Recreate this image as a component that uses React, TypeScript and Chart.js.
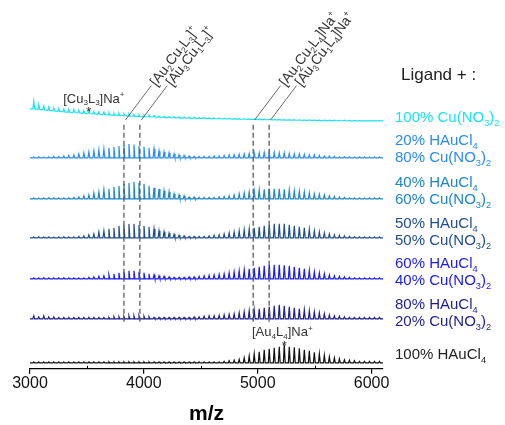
import React, { useEffect, useRef } from "react";
import { Chart, registerables } from "chart.js";
Chart.register(...registerables);

const FONT = "'Liberation Sans', Arial, Helvetica, sans-serif";

// m/z of the isotope-pattern peaks
const peakMz = [
  3033, 3077, 3121, 3165, 3209, 3253, 3297, 3341, 3385, 3429,
  3473, 3517, 3561, 3605, 3649, 3693, 3737, 3781, 3825, 3869,
  3913, 3957, 4001, 4045, 4089, 4133, 4177, 4221, 4265, 4309,
  4353, 4397, 4441, 4485, 4529, 4573, 4617, 4661, 4705, 4749,
  4793, 4837, 4881, 4925, 4969, 5013, 5057, 5101, 5145, 5189,
  5233, 5277, 5321, 5365, 5409, 5453, 5497, 5541, 5585, 5629,
  5673, 5717, 5761, 5805, 5849, 5893, 5937, 5981, 6025, 6069,
];

// 100% Cu(NO3)2
const cu100Peaks = [
  8, 5, 4, 3.5, 3, 3, 3, 3, 3, 3,
  2.5, 2.5, 2.5, 2.5, 2.5, 2, 2, 2, 2, 2,
  1.5, 1.5, 1.5, 1.5, 1.5, 1, 1, 1, 1, 1,
  1, 1, 1, 1, 1, 0.7, 0.7, 0.7, 0.7, 0.7,
  0.5, 0.5, 0.5, 0.5, 0.5, 0.5, 0.5, 0.5, 0.5, 0.5,
  0.5, 0.5, 0.5, 0.5, 0.5, 0.5, 0.5, 0.5, 0.5, 0.5,
  0.5, 0.5, 0.5, 0.5, 0.5, 0.5, 0.5, 0.5, 0.5, 0.5,
];
const cu100Valleys = [
  12, 11.5, 11, 10.5, 10, 9.5, 9, 8.7, 8.4, 8,
  7.7, 7.4, 7, 6.7, 6.4, 6.1, 5.8, 5.5, 5.2, 5,
  4.8, 4.6, 4.4, 4.2, 4, 3.8, 3.6, 3.4, 3.2, 3,
  2.9, 2.8, 2.7, 2.6, 2.5, 2.4, 2.3, 2.2, 2.1, 2,
  1.9, 1.8, 1.7, 1.6, 1.5, 1.4, 1.3, 1.2, 1.1, 1,
  0.9, 0.8, 0.8, 0.7, 0.6, 0.6, 0.5, 0.4, 0.4, 0.3,
  0.3, 0.2, 0.2, 0.1, 0.1, 0, 0, 0, 0, 0,
];
// 20% HAuCl4 / 80% Cu(NO3)2
const au20Peaks = [
  1, 1.2, 0.8, 1, 1.5, 1.3, 2, 2.5, 3, 4,
  5, 6, 7, 8, 9, 10, 11, 12, 13, 14,
  13.5, 12, 11, 10, 9, 7, 6, 5, 4, 3,
  2.5, 2, 1.5, 1.5, 1.5, 1.5, 2, 2, 2.5, 3,
  3, 3.5, 4, 4.5, 5, 5, 5.5, 5.5, 5.5, 5,
  5, 4.5, 4, 4, 3.5, 3, 3, 2.5, 2, 2,
  1.5, 1, 1.2, 1, 0.8, 1, 1, 0.8, 1, 1,
];
// 40% HAuCl4 / 60% Cu(NO3)2
const au40Peaks = [
  1, 0.8, 1, 1.2, 1, 1, 1, 1.2, 1.5, 2,
  3, 4, 6, 7, 9, 10, 12, 13, 15, 16,
  17, 16, 15, 13, 11, 10, 8, 7, 5, 4,
  3, 2, 2, 1.5, 1.5, 1.5, 1.5, 2, 2.5, 3,
  4, 5, 6, 7, 8, 9, 9.5, 10, 10, 10,
  9.5, 9, 8, 7.5, 7, 6, 5, 4.5, 4, 3,
  2.5, 2, 1.5, 1, 1, 1, 0.8, 1, 1, 1,
];
// 50% HAuCl4 / 50% Cu(NO3)2
const au50Peaks = [
  1, 1.2, 1, 1, 0.8, 1, 1.2, 1, 1, 1.5,
  2, 3, 4, 6, 7, 9, 10, 12, 13, 14,
  14, 13, 12, 11, 9, 7, 6, 4.5, 3.5, 2.5,
  2, 1.5, 1.5, 1.5, 1.5, 2, 2.5, 3, 4, 5,
  6, 7, 8, 9, 10, 11, 12, 13, 14, 14,
  14, 13, 12, 11, 10, 8.5, 7, 6, 5, 4,
  3, 2.5, 2, 1.5, 1.2, 1, 1, 1, 1, 1,
];
// 60% HAuCl4 / 40% Cu(NO3)2
const au60Peaks = [
  1, 1, 1.2, 1, 1, 1, 1.2, 1, 1, 1,
  1, 1.5, 2, 2.5, 3, 4, 5, 6, 7, 8,
  8, 7, 6, 5, 4, 3, 2.5, 2, 1.5, 1.5,
  1.5, 2, 2, 2.5, 3, 3.5, 4, 4.5, 5, 6,
  7, 8, 9, 10, 11, 12, 13, 14, 14, 14,
  13.5, 13, 12, 11, 10, 8.5, 7, 6, 5, 4,
  3, 2.5, 2, 1.5, 1, 1, 1, 1, 1, 1,
];
// 80% HAuCl4 / 20% Cu(NO3)2
const au80Peaks = [
  3, 2, 3, 2, 2, 1.5, 1.5, 1.5, 1.5, 1.5,
  1.5, 1.5, 1.5, 1.5, 1.5, 1.5, 2, 2, 2.5, 3,
  3, 3, 2.5, 2, 1.5, 1.5, 1.5, 1.5, 1.5, 1.5,
  1.5, 1.5, 2, 2, 2.5, 3, 3, 3.5, 4, 4.5,
  5, 6, 7, 8, 9, 10, 11, 12, 13, 14,
  13, 12, 11, 10, 9, 8, 7, 6, 5, 4,
  3, 2.5, 2, 1.5, 1.5, 1.5, 1.5, 1.5, 1.5, 1.5,
];
// 100% HAuCl4
const au100Peaks = [
  1, 1, 1, 1, 1, 1, 1, 1, 1, 1,
  1, 1, 1, 1, 1, 1, 1, 1, 1, 1,
  1, 1, 1, 1, 1, 1, 1, 1, 1, 1,
  1, 1, 1, 1, 1, 1, 1, 1, 1.5, 2,
  2.5, 3.5, 5, 7, 9, 11, 13, 14, 15, 16,
  18, 16, 15.5, 14.5, 13, 12, 10.5, 9, 7.5, 6,
  5, 4, 3, 2.5, 2, 1.5, 1.5, 1.5, 1.5, 1.5,
];

const seriesPeaks = [cu100Peaks, au20Peaks, au40Peaks, au50Peaks, au60Peaks, au80Peaks, au100Peaks];
const seriesValleys: (number[] | null)[] = [cu100Valleys, null, null, null, null, null, null];
const seriesOffsets = [248, 211, 170, 131, 90, 50, 6];
const seriesColors = ["#19E3EE", "#2A8CF0", "#2086C4", "#1F4E8A", "#1C1CE8", "#1E1E8C", "#111111"];
const seriesLabels = [
  ["100% Cu(NO_3)_2"],
  ["20% HAuCl_4", "80% Cu(NO_3)_2"],
  ["40% HAuCl_4", "60% Cu(NO_3)_2"],
  ["50% HAuCl_4", "50% Cu(NO_3)_2"],
  ["60% HAuCl_4", "40% Cu(NO_3)_2"],
  ["80% HAuCl_4", "20% Cu(NO_3)_2"],
  ["100% HAuCl_4"],
];
const legendTitle = "Ligand + :";

const markerMz = [3825, 3965, 4960, 5100];
const markerLabels = ["[Au_2Cu_2L_3]^+", "[Au_3Cu_1L_3]^+", "[Au_2Cu_2L_4]Na^+", "[Au_3Cu_1L_4]Na^+"];
const markerRange = [47, 247];

const starMz = [3517, 5233];
const starLabels = ["[Cu_3L_3]Na^+", "[Au_4L_4]Na^+"];
const starSeries = [0, 6];

const xMin = 3000;
const xMax = 6100;
const xTickValues = [3000, 3500, 4000, 4500, 5000, 5500, 6000];
const xAxisTitle = "m/z";

type Part = { t: string; m: "n" | "sub" | "sup" };
function parseRich(s: string): Part[] {
  const out: Part[] = [];
  for (let i = 0; i < s.length; i++) {
    const c = s[i];
    if ((c === "_" || c === "^") && i + 1 < s.length) {
      out.push({ t: s[i + 1], m: c === "_" ? "sub" : "sup" });
      i++;
    } else {
      const last = out[out.length - 1];
      if (last && last.m === "n") last.t += c;
      else out.push({ t: c, m: "n" });
    }
  }
  return out;
}
function richWidth(ctx: CanvasRenderingContext2D, s: string, size: number) {
  let w = 0;
  for (const p of parseRich(s)) {
    ctx.font = `${p.m === "n" ? size : size * 0.62}px ${FONT}`;
    w += ctx.measureText(p.t).width;
  }
  return w;
}
function drawRich(ctx: CanvasRenderingContext2D, s: string, x: number, y: number, size: number, color: string) {
  let cx = x;
  ctx.fillStyle = color;
  ctx.textBaseline = "alphabetic";
  ctx.textAlign = "left";
  for (const p of parseRich(s)) {
    const fs = p.m === "n" ? size : size * 0.62;
    ctx.font = `${fs}px ${FONT}`;
    const dy = p.m === "sub" ? size * 0.22 : p.m === "sup" ? -size * 0.42 : 0;
    ctx.fillText(p.t, cx, y + dy);
    cx += ctx.measureText(p.t).width;
  }
}

function buildTrace(peaks: number[], valleys: number[] | null, offset: number) {
  const v = (i: number) => offset + (valleys ? valleys[i] : 0);
  const pts: { x: number; y: number }[] = [{ x: xMin, y: v(0) }];
  peakMz.forEach((m, i) => {
    pts.push({ x: m - 8, y: v(i) }, { x: m, y: v(i) + peaks[i] }, { x: m + 8, y: v(i) });
  });
  pts.push({ x: xMax, y: v(peakMz.length - 1) });
  return pts;
}

const annotPlugin = {
  id: "annot",
  afterDraw(chart: any) {
    const { ctx, scales } = chart;
    const x = scales.x;
    const y = scales.y;
    const area = chart.chartArea;
    ctx.save();
    // minor ticks (inward)
    ctx.strokeStyle = "#000";
    ctx.lineWidth = 1;
    for (const v of xTickValues) {
      if (v % 1000 === 0) continue;
      const px = Math.round(x.getPixelForValue(v)) + 0.5;
      ctx.beginPath();
      ctx.moveTo(px, area.bottom);
      ctx.lineTo(px, area.bottom - 3);
      ctx.stroke();
    }
    // leader lines + rotated labels
    const ang = (53 * Math.PI) / 180;
    markerMz.forEach((m, i) => {
      const px = x.getPixelForValue(m);
      const sx = px + 1.5;
      const sy = y.getPixelForValue(markerRange[1]) - 2;
      const len = 43;
      const ex = sx + len * Math.cos(ang);
      const ey = sy - len * Math.sin(ang);
      ctx.strokeStyle = "#444";
      ctx.lineWidth = 0.8;
      ctx.beginPath();
      ctx.moveTo(sx, sy);
      ctx.lineTo(ex, ey);
      ctx.stroke();
      ctx.save();
      ctx.translate(ex, ey);
      ctx.rotate(-ang);
      drawRich(ctx, markerLabels[i], 2, 14 * 0.35, 14, "#333");
      ctx.restore();
    });
    // starred peaks
    const starShift = [5, -2];
    starMz.forEach((m, i) => {
      const si = starSeries[i];
      const k = peakMz.indexOf(m);
      const vals = seriesValleys[si];
      const top = seriesOffsets[si] + (vals ? vals[k] : 0) + seriesPeaks[si][k];
      const px = x.getPixelForValue(m);
      const py = y.getPixelForValue(top) - 2;
      ctx.fillStyle = "#222";
      ctx.font = `13px ${FONT}`;
      ctx.textAlign = "center";
      ctx.textBaseline = "alphabetic";
      ctx.fillText("*", px, py + 7);
      const w = richWidth(ctx, starLabels[i], 13);
      drawRich(ctx, starLabels[i], px + starShift[i] - w / 2, py - 11 + 13 * 0.35, 13, "#333");
    });
    // legend title
    ctx.fillStyle = "#222";
    ctx.font = `17px ${FONT}`;
    ctx.textAlign = "left";
    ctx.textBaseline = "middle";
    ctx.fillText(legendTitle, 401, 75);
    // series labels
    const labelY = [[117], [140, 157], [182, 199], [223, 240], [263, 280], [304, 321], [354]];
    seriesLabels.forEach((lines, i) => {
      lines.forEach((s, j) => {
        drawRich(ctx, s, 395, labelY[i][j] + 15 * 0.35, 15, i === 6 ? "#222" : seriesColors[i]);
      });
    });
    ctx.restore();
  },
};

export default function App() {
  const ref = useRef<HTMLCanvasElement | null>(null);
  useEffect(() => {
    if (!ref.current) return;
    const datasets: any[] = [];
    markerMz.forEach((m) => {
      datasets.push({
        data: [
          { x: m, y: markerRange[0] },
          { x: m, y: markerRange[1] },
        ],
        borderColor: "#5a5a5a",
        borderWidth: 1.3,
        borderDash: [5, 3],
        pointRadius: 0,
        fill: false,
      });
    });
    seriesPeaks.forEach((p, i) => {
      datasets.push({
        data: buildTrace(p, seriesValleys[i], seriesOffsets[i]),
        borderColor: seriesColors[i],
        borderWidth: 1.2,
        pointRadius: 0,
        fill: false,
        tension: 0,
      });
    });
    const chart = new Chart(ref.current, {
      type: "line",
      data: { datasets },
      options: {
        responsive: true,
        maintainAspectRatio: false,
        animation: false,
        layout: { padding: { left: 30, right: 122, top: 0, bottom: 0 } },
        plugins: { legend: { display: false }, tooltip: { enabled: false } },
        scales: {
          x: {
            type: "linear",
            min: xMin,
            max: xMax,
            afterBuildTicks: (scale: any) => {
              scale.ticks = xTickValues.filter((v) => v % 1000 === 0).map((v) => ({ value: v }));
            },
            ticks: {
              autoSkip: false,
              maxRotation: 0,
              padding: 0,
              color: "#111",
              font: { size: 16, family: FONT },
              callback: (v: any) => String(v),
            },
            grid: {
              drawOnChartArea: false,
              drawTicks: true,
              tickLength: 5,
              lineWidth: 1.2,
              color: "#000",
            },
            border: { display: true, color: "#000", width: 1.2 },
            title: {
              display: true,
              text: xAxisTitle,
              color: "#000",
              font: { size: 21, weight: "bold", family: FONT, lineHeight: 1 },
              padding: { top: 11, bottom: 0 },
            },
          },
          y: { display: false, min: 0, max: 369 },
        },
      },
      plugins: [annotPlugin],
    } as any);
    return () => chart.destroy();
  }, []);
  return (
    <div style={{ position: "absolute", left: 0, top: 0, width: 505, height: 425 }}>
      <canvas ref={ref} />
    </div>
  );
}
